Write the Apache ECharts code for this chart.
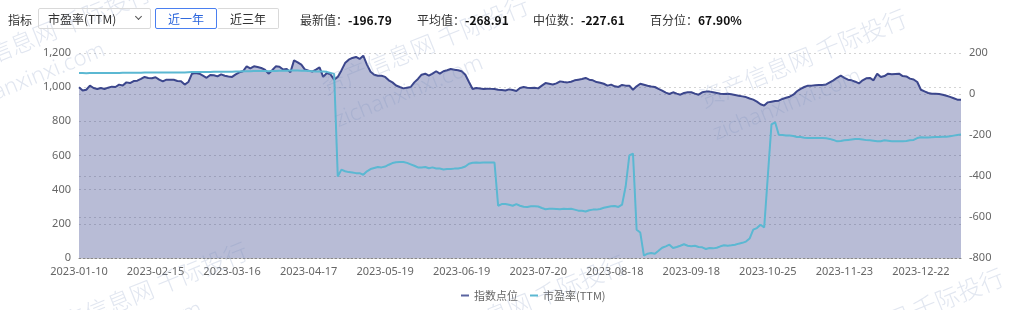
<!DOCTYPE html>
<html><head><meta charset="utf-8">
<script src="https://cdn.jsdelivr.net/npm/echarts@6/dist/echarts.min.js"></script>
<style>
html,body{margin:0;padding:0;background:#fff;}
#wrap{position:relative;width:1024px;height:310px;overflow:hidden;}
#chart{position:absolute;left:0;top:0;width:1024px;height:310px;}
#hdr{position:absolute;left:0;top:0;width:1024px;height:40px;font-family:'Noto Sans CJK SC','Noto Sans',sans-serif;font-size:12px;color:#333;}
#hdr .t{position:absolute;top:11px;line-height:18px;white-space:nowrap;}
#hdr .t b{color:#111;font-weight:700;}
.box{position:absolute;top:8px;height:21px;box-sizing:border-box;border:1px solid #d9d9d9;border-radius:2px;line-height:19px;font-size:12px;}
.chev{position:absolute;left:97px;top:5px;width:4px;height:4px;border-right:1px solid #555;border-bottom:1px solid #555;transform:rotate(45deg);}
</style></head>
<body>
<div id="wrap">
<div id="chart"></div>
<div id="hdr">
  <span class="t" style="left:8px">指标</span>
  <div class="box" style="left:38px;width:113px;padding-left:9px;color:#333">市盈率(TTM)<span class="chev"></span></div>
  <div class="box" style="left:155px;width:62px;text-align:center;border-color:#4a7ff0;color:#2c66dd">近一年</div>
  <div class="box" style="left:217px;width:62px;text-align:center;color:#333;border-left-color:transparent">近三年</div>
  <span class="t" id="s1" style="left:300px"></span>
  <span class="t" id="s2" style="left:417px"></span>
  <span class="t" id="s3" style="left:533px"></span>
  <span class="t" id="s4" style="left:650px"></span>
</div>
</div>
<script>
// ---- data ----
const holidays = ['2023-01-23','2023-01-24','2023-01-25','2023-01-26','2023-01-27','2023-04-05',
  '2023-05-01','2023-05-02','2023-05-03','2023-06-22','2023-06-23','2023-09-29','2023-10-02',
  '2023-10-03','2023-10-04','2023-10-05','2023-10-06','2024-01-01'];
const startDate = '2023-01-10';
const endDate = '2024-01-09';

const indexValues = [
 999,981,985,1009,995,989,995,989,997,1003,
 1001,1015,1010,1028,1024,1036,1038,1048,1060,1054,
 1052,1058,1044,1034,1044,1044,1043,1036,1034,1015,
 1030,1079,1083,1079,1067,1055,1071,1070,1063,1075,
 1067,1063,1060,1075,1087,1093,1122,1110,1122,1118,
 1112,1103,1079,1099,1122,1120,1103,1106,1087,1157,
 1145,1132,1103,1097,1091,1103,1116,1060,1083,1075,
 1044,1060,1098,1141,1161,1171,1177,1165,1184,1132,
 1090,1073,1067,1067,1060,1040,1028,1010,1001,993,
 997,1001,1028,1048,1073,1079,1067,1079,1093,1079,
 1093,1099,1106,1102,1099,1093,1073,1030,989,995,
 992,989,991,990,989,985,983,981,987,983,
 978,995,1001,997,995,997,993,1009,1024,1020,
 1016,1022,1034,1030,1028,1032,1040,1044,1048,1054,
 1044,1040,1030,1026,1020,1009,1015,1005,1001,1013,
 1009,1009,985,1005,1020,1014,1008,1004,1001,990,
 980,968,960,970,962,956,966,970,970,962,
 956,970,974,974,970,966,962,960,962,958,
 954,950,946,942,934,927,915,900,892,911,
 915,919,921,931,938,944,956,976,990,1001,
 1009,1009,1011,1013,1013,1016,1028,1040,1055,1067,
 1054,1044,1040,1032,1022,1040,1052,1054,1040,1079,
 1059,1065,1079,1075,1077,1079,1065,1063,1050,1045,
 1030,985,975,966,962,962,960,956,950,943,
 935,927,927
];

const peValues = [
 102,102,101,102,102,102,102,102,103,103,
 103,103,104,104,104,104,104,104,105,105,
 105,105,105,105,105,105,105,105,105,105,
 106,107,107,107,107,107,107,108,108,108,
 108,108,109,110,110,111,111,111,112,112,
 112,112,111,112,112,113,113,114,115,115,
 115,114,113,112,111,110,110,110,108,103,
 98,-402,-369,-377,-381,-383,-386,-386,-394,-377,
 -366,-361,-356,-358,-354,-345,-337,-333,-332,-332,
 -336,-343,-350,-358,-358,-356,-362,-358,-363,-363,
 -368,-366,-366,-364,-363,-360,-354,-340,-335,-334,
 -335,-334,-334,-334,-334,-545,-537,-537,-540,-545,
 -537,-545,-550,-551,-548,-548,-549,-556,-562,-560,
 -560,-561,-562,-560,-561,-560,-564,-569,-570,-573,
 -567,-564,-564,-561,-555,-551,-548,-546,-551,-540,
 -450,-300,-291,-662,-676,-788,-779,-776,-779,-765,
 -750,-743,-735,-751,-746,-740,-733,-740,-743,-740,
 -746,-748,-756,-751,-753,-750,-743,-738,-740,-738,
 -735,-730,-726,-720,-705,-662,-654,-638,-651,-400,
 -148,-138,-199,-200,-202,-203,-205,-210,-210,-213,
 -215,-215,-215,-215,-215,-216,-219,-224,-231,-229,
 -226,-224,-222,-220,-220,-222,-225,-226,-228,-231,
 -230,-226,-228,-231,-231,-231,-231,-229,-226,-224,
 -215,-211,-212,-212,-211,-210,-210,-209,-208,-206,
 -203,-200,-197
];

const leftTicks = {min: 0, max: 1200, interval: 200};
const rightTicks = {min: -800, max: 200, interval: 200};
const seriesNames = ['指数点位', '市盈率(TTM)'];
const stats = [['最新值：','-196.79'],['平均值：','-268.91'],['中位数：','-227.61'],['百分位：','67.90%']];
const watermarkCN = '资产信息网 千际投行';
const watermarkURL = 'zichanxinxi.com';

// trading-day categories
function pad(n){return n<10?'0'+n:''+n;}
const dates = [];
(function(){
  const d = new Date(startDate+'T00:00:00Z');
  const e = new Date(endDate+'T00:00:00Z');
  while (d <= e) {
    const s = d.getUTCFullYear()+'-'+pad(d.getUTCMonth()+1)+'-'+pad(d.getUTCDate());
    const wd = d.getUTCDay();
    if (wd !== 0 && wd !== 6 && holidays.indexOf(s) < 0) dates.push(s);
    d.setUTCDate(d.getUTCDate()+1);
  }
})();

// header stats
stats.forEach(function(s,i){
  document.getElementById('s'+(i+1)).innerHTML = s[0] + '<b>' + s[1] + '</b>';
});

// watermark
const wmColor = 'rgba(120,140,185,0.22)';
const rot = 22 * Math.PI / 180;
const wmCN = [[47,32],[425,45],[803,58],[144,291],[522,304],[900,317]];
const wmURL = [[31,79],[409,92],[787,105],[128,338],[506,351],[884,364]];
const graphics = [];
wmCN.forEach(function(p){
  graphics.push({type:'text', x:p[0], y:p[1], rotation:rot, z:100, silent:true,
    style:{text:watermarkCN, fill:wmColor, font:'300 24px "Noto Sans CJK SC"', textAlign:'center', textVerticalAlign:'middle'}});
});
wmURL.forEach(function(p){
  graphics.push({type:'text', x:p[0], y:p[1], rotation:rot, z:100, silent:true,
    style:{text:watermarkURL, fill:wmColor, font:'300 22px "Noto Sans"', textAlign:'center', textVerticalAlign:'middle'}});
});

const chart = echarts.init(document.getElementById('chart'));
const axisLabelStyle = {color:'#666', fontSize:11, fontFamily:'Noto Sans'};
const splitStyle = {show:true, lineStyle:{color:'#d4d4d4', type:[2,3], width:1}};
chart.setOption({
  animation:false,
  grid:{left:79, right:63, top:53, bottom:52},
  legend:{
    data:seriesNames, left:456, top:285, icon:'rect', itemWidth:8, itemHeight:2, itemGap:12,
    textStyle:{color:'#666', fontSize:11, fontFamily:'Noto Sans CJK SC'}
  },
  xAxis:{
    type:'category', data:dates, boundaryGap:false,
    axisLine:{show:true, lineStyle:{color:'#888', type:[2,2]}},
    axisTick:{show:false},
    axisLabel:Object.assign({interval:20, margin:8}, axisLabelStyle)
  },
  yAxis:[
    {type:'value', min:leftTicks.min, max:leftTicks.max, interval:leftTicks.interval,
     axisLine:{show:false}, axisTick:{show:false}, axisLabel:axisLabelStyle, splitLine:splitStyle},
    {type:'value', min:rightTicks.min, max:rightTicks.max, interval:rightTicks.interval, position:'right',
     axisLine:{show:false}, axisTick:{show:false}, axisLabel:axisLabelStyle, splitLine:splitStyle}
  ],
  graphic:graphics,
  series:[
    {name:seriesNames[0], type:'line', yAxisIndex:0, data:indexValues, symbol:'none',
     lineStyle:{color:'#3b468c', width:2}, itemStyle:{color:'#5a64a0'},
     areaStyle:{color:'rgba(59,70,140,0.36)', opacity:1}},
    {name:seriesNames[1], type:'line', yAxisIndex:1, data:peValues, symbol:'none',
     lineStyle:{color:'#5bb8d2', width:2}, itemStyle:{color:'#5bb8d2'}}
  ]
});
</script>
</body></html>
